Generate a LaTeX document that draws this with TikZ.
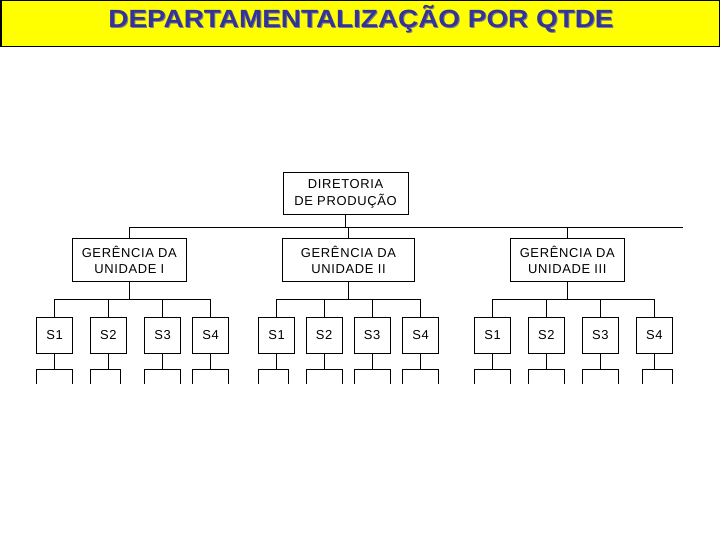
\documentclass[tikz,border=0pt]{standalone}
\usepackage{fontspec}
\setmainfont{Liberation Sans}
\newfontfamily\boxfont[LetterSpace=5]{Liberation Sans}
\usetikzlibrary{calc}
\definecolor{titleblue}{RGB}{51,51,153}
\definecolor{titleyellow}{RGB}{255,255,0}
\newcommand{\titletext}{\fontsize{25}{30}\selectfont\bfseries\scalebox{1.12}[1]{DEPARTAMENTALIZAÇÃO POR QTDE}}
\begin{document}
\begin{tikzpicture}[x=1bp, y=-1bp, line width=1bp,
	orgbox/.style={draw, align=center, inner sep=0pt, font=\boxfont\fontsize{13}{16.5}\selectfont},
	unitbox/.style={orgbox, minimum height=42bp},
	secbox/.style={orgbox, minimum width=36bp, minimum height=36bp},
	openbox/.style={draw, inner sep=0pt, minimum height=30bp, anchor=north west}]
	\useasboundingbox (0,0) rectangle (720,540);
	% title bar
	\draw[fill=titleyellow, line width=1.5bp] (0.75,0.75) rectangle (719.25,46.5);
	\node[anchor=base, text=gray] (titleshadow) at (362,28.3) {\titletext};
	\node[anchor=base, text=titleblue] (title) at (361,27.3) {\titletext};
	% top of the chart
	\node[unitbox, minimum width=125bp] (dir) at (345.5,194) {DIRETORIA\\DE PRODUÇÃO};
	\node[unitbox, minimum width=114bp] (u1) at (129.3,260) {GERÊNCIA DA\\UNIDADE I};
	\node[unitbox, minimum width=131.6bp] (u2) at (348.5,260) {GERÊNCIA DA\\UNIDADE II};
	\node[unitbox, minimum width=114bp] (u3) at (567.3,260) {GERÊNCIA DA\\UNIDADE III};
	\coordinate (busL) at (129.3,227.7);
	\coordinate (busR) at (683.3,227.7);
	\draw (busL) -- (busR);
	\draw (dir.south) -- (dir.south |- busL);
	\foreach \p in {u1,u2,u3} {
		\draw (\p.north) -- (\p.north |- busL);
		\coordinate (\p-bus) at ($(\p.south)+(0,18.3)$);
		\draw (\p.south) -- (\p-bus);
	}
	% sections, boxes below are cut off
	\begin{scope}
		\clip (0,0) rectangle (720,383.5);
		\foreach \s/\x/\p/\t/\w/\o in {a1/54.5/u1/S1/36/0, a2/108.4/u1/S2/30/0, a3/162.5/u1/S3/36/0, a4/210.6/u1/S4/36/0,
			b1/276.5/u2/S1/30/0, b2/324.2/u2/S2/36/0, b3/372.2/u2/S3/36/0, b4/420.5/u2/S4/36/0,
			c1/492.5/u3/S1/36/0, c2/546.3/u3/S2/36/0, c3/600.3/u3/S3/36/0, c4/654.3/u3/S4/30/6} {
			\node[secbox] (\s) at (\x,335) {\t};
			\draw (\s.north) |- (\p-bus);
			\node[openbox, minimum width=\w bp] (\s-low) at ($(\s.south west |- 0,368.5)+(\o,0)$) {};
			\draw (\s.south) -- (\s.south |- \s-low.north);
		}
	\end{scope}
\end{tikzpicture}
\end{document}
